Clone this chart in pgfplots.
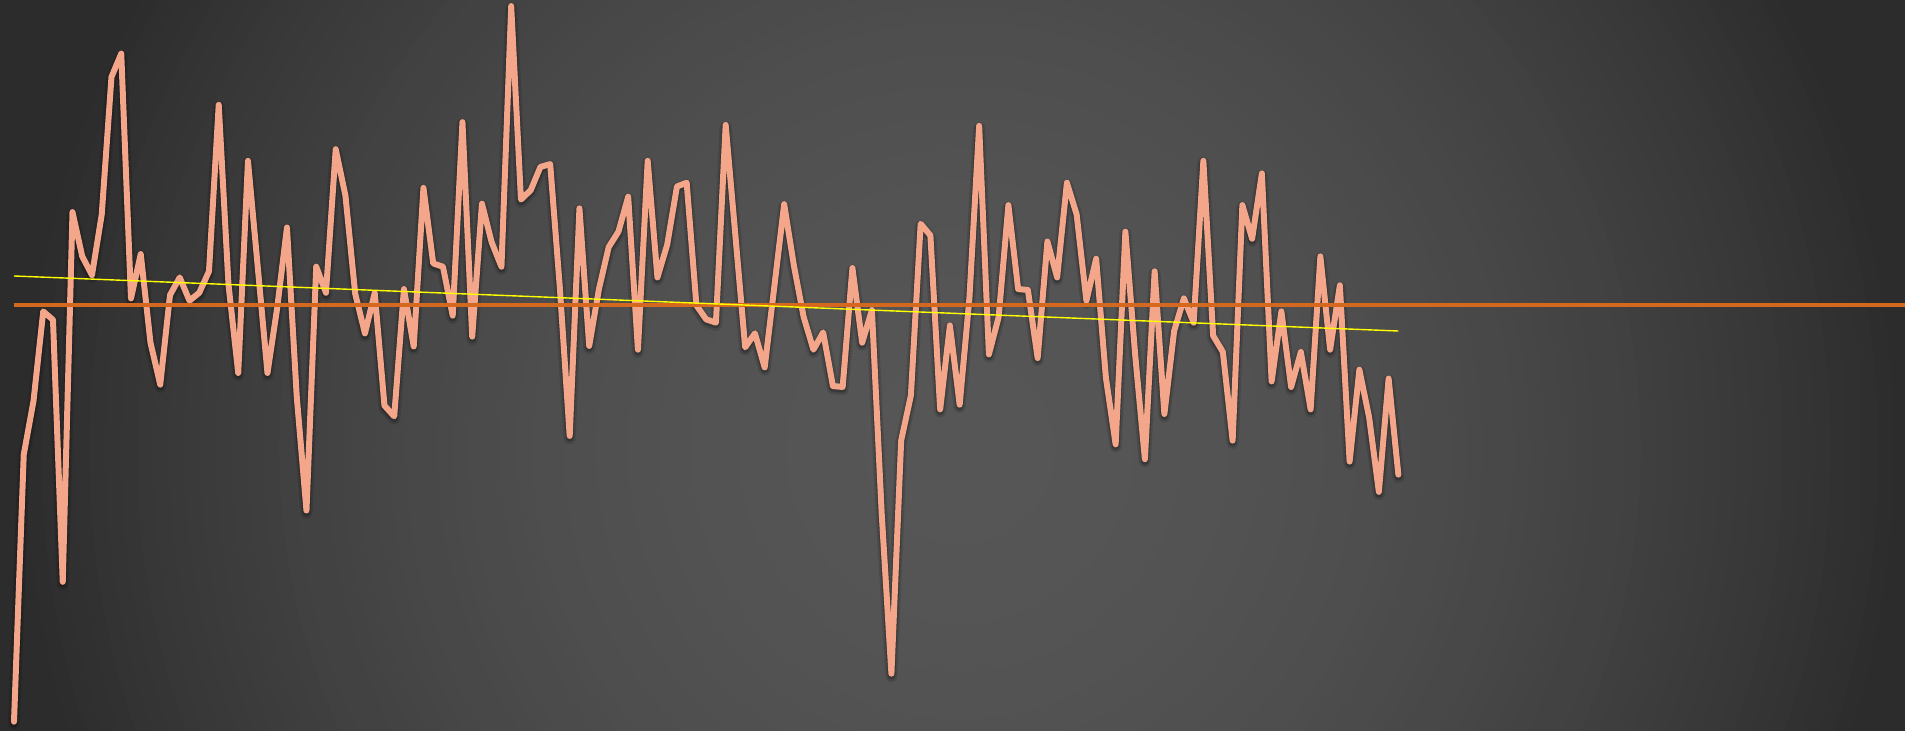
\documentclass[border=0pt]{standalone}
\usepackage{pgfplots}
\pgfplotsset{compat=1.18}
\usepackage{pgfplotstable}
\definecolor{salmon}{RGB}{244,166,138}
\definecolor{meanc}{RGB}{212,104,30}
\definecolor{trendc}{RGB}{255,255,0}
\pgfplotstableread{
i y
0 1548
1 975
2 860
3 668
4 686
5 1248
6 455
7 550
8 590
9 460
10 165
11 115
12 640
13 545
14 735
15 825
16 633
17 595
18 645
19 628
20 582
21 225
22 610
23 800
24 345
25 572
26 800
27 660
28 488
29 850
30 1095
31 572
32 628
33 320
34 420
35 630
36 715
37 628
38 870
39 893
40 620
41 743
42 403
43 565
44 572
45 677
46 262
47 722
48 437
49 520
50 572
51 13
52 428
53 408
54 358
55 352
56 620
57 935
58 447
59 742
60 620
61 530
62 497
63 422
64 750
65 345
66 595
67 525
68 400
69 392
70 655
71 685
72 692
73 268
74 506
75 745
76 715
77 788
78 613
79 438
80 570
81 680
82 750
83 713
84 828
85 830
86 575
87 735
88 665
89 1100
90 1445
91 945
92 848
93 480
94 505
95 878
96 698
97 868
98 640
99 270
100 760
101 680
102 440
103 620
104 622
105 768
106 518
107 595
108 392
109 460
110 645
111 555
112 810
113 953
114 497
115 760
116 985
117 582
118 888
119 710
120 640
121 692
122 345
123 720
124 755
125 945
126 440
127 512
128 372
129 818
130 668
131 830
132 755
133 878
134 550
135 750
136 612
137 990
138 793
139 895
140 1055
141 812
142 1018
}\datatable
\begin{document}
\begin{tikzpicture}
\useasboundingbox (0,0) rectangle (952.5bp,365.5bp);
\fill[color={rgb,255:red,44;green,44;blue,44}] (0,0) rectangle (952.5bp,365.5bp);
\begin{scope}
\clip (0,0) rectangle (952.5bp,365.5bp);
\foreach \k in {60,59,...,1}{%
  \pgfmathsetmacro\g{(86-42*(\k/60)*(\k/60))/255}%
  \definecolor{ringc}{gray}{\g}%
  \fill[ringc] (480bp,140.5bp) circle ({7.9167bp*\k});
}
\end{scope}
\begin{axis}[
  at={(0,0)}, anchor=south west,
  scale only axis, width=952.5bp, height=365.5bp,
  xmin=-1.436, xmax=193.97, ymin=0, ymax=1568,
  y dir=reverse,
  hide axis, clip=true,
]
\addplot[black, opacity=0.12, line width=6bp, line join=round, line cap=round]
  table[x=i, y expr=\thisrow{y}+5] {\datatable};
\addplot[black, opacity=0.22, line width=4bp, line join=round, line cap=round]
  table[x=i, y expr=\thisrow{y}+4] {\datatable};
\addplot[salmon, line width=3bp, line join=round, line cap=round]
  table[x=i, y=y] {\datatable};
\addplot[meanc, line width=2bp] coordinates {(0,655) (200,655)};
\addplot[trendc, line width=0.7bp] coordinates {(0,592) (142,710)};
\end{axis}
\end{tikzpicture}
\end{document}
